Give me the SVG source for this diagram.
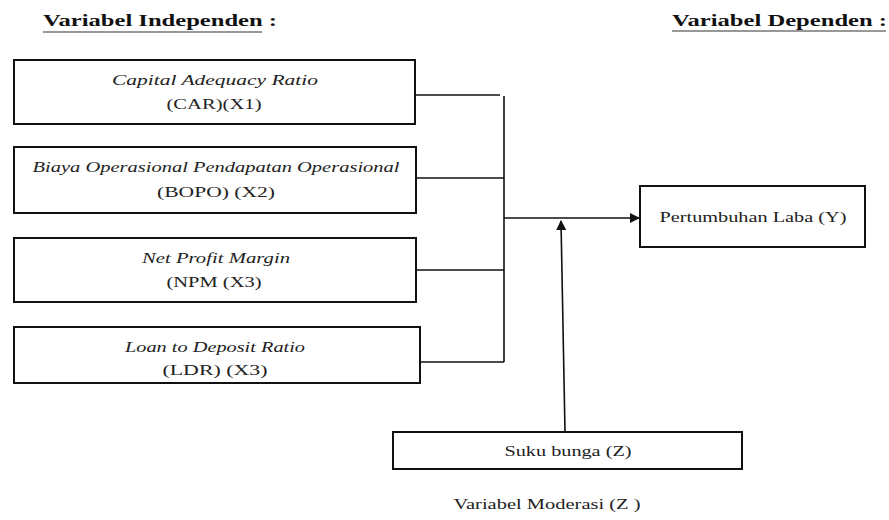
<svg xmlns="http://www.w3.org/2000/svg" width="889" height="520" viewBox="0 0 889 520">
<style>
.box{fill:#fff;stroke:#111;stroke-width:2}
.t{font-family:"Liberation Serif","Times New Roman",serif;font-size:15px;fill:#222;text-anchor:middle}
.i{font-style:italic}
.h{font-family:"Liberation Serif","Times New Roman",serif;font-size:16px;font-weight:bold;fill:#111}
.c{stroke:#111;stroke-width:1.6;fill:none}
</style>
<defs>
<marker id="ah" markerWidth="10" markerHeight="10" refX="9" refY="5" orient="auto" markerUnits="userSpaceOnUse">
<path d="M0,0 L10,5 L0,10 Z" fill="#111"/>
</marker>
</defs>
<g id="titles">
<text class="h" x="43" y="26" textLength="234" lengthAdjust="spacingAndGlyphs">Variabel Independen :</text>
<line x1="43" y1="32" x2="262" y2="32" stroke="#333" stroke-width="1.2"/>
<text class="h" x="672" y="26" textLength="215" lengthAdjust="spacingAndGlyphs">Variabel Dependen :</text>
<line x1="672" y1="31" x2="886" y2="31" stroke="#333" stroke-width="1.2"/>
</g>
<g id="connectors">
<line class="c" x1="415" y1="95" x2="500" y2="95" stroke="#444"/>
<line class="c" x1="504" y1="96" x2="504" y2="362"/>
<line class="c" x1="416" y1="178" x2="504" y2="178"/>
<line class="c" x1="416" y1="270" x2="504" y2="270"/>
<line class="c" x1="420" y1="362" x2="504" y2="362"/>
<line class="c" x1="504" y1="218" x2="639" y2="218" marker-end="url(#ah)"/>
<line class="c" x1="565" y1="432" x2="561" y2="221" marker-end="url(#ah)"/>
</g>
<g id="x1">
<rect class="box" x="14" y="60" width="401" height="64" stroke="#666"/>
<text class="t i" x="215" y="85" textLength="206" lengthAdjust="spacingAndGlyphs">Capital Adequacy Ratio</text>
<text class="t" x="214" y="109" textLength="95" lengthAdjust="spacingAndGlyphs">(CAR)(X1)</text>
</g>
<g id="x2">
<rect class="box" x="14" y="147" width="402" height="66"/>
<text class="t i" x="216" y="172" textLength="367" lengthAdjust="spacingAndGlyphs">Biaya Operasional Pendapatan Operasional</text>
<text class="t" x="216" y="197" textLength="118" lengthAdjust="spacingAndGlyphs">(BOPO)  (X2)</text>
</g>
<g id="x3">
<rect class="box" x="14" y="238" width="402" height="64"/>
<text class="t i" x="216" y="263" textLength="148" lengthAdjust="spacingAndGlyphs">Net Profit Margin</text>
<text class="t" x="214" y="287" textLength="95" lengthAdjust="spacingAndGlyphs">(NPM (X3)</text>
</g>
<g id="x4">
<rect class="box" x="14" y="327" width="406" height="56"/>
<text class="t i" x="215" y="352" textLength="180" lengthAdjust="spacingAndGlyphs">Loan to Deposit Ratio</text>
<text class="t" x="215" y="375" textLength="105" lengthAdjust="spacingAndGlyphs">(LDR)  (X3)</text>
</g>
<g id="y">
<rect class="box" x="640" y="186" width="225" height="61"/>
<text class="t" x="753" y="222" textLength="187" lengthAdjust="spacingAndGlyphs">Pertumbuhan Laba (Y)</text>
</g>
<g id="z">
<rect class="box" x="393" y="432" width="349" height="37"/>
<text class="t" x="568" y="456" textLength="127" lengthAdjust="spacingAndGlyphs">Suku bunga (Z)</text>
</g>
<g id="zlabel">
<text class="t" x="547" y="509" textLength="187" lengthAdjust="spacingAndGlyphs">Variabel Moderasi (Z )</text>
</g>
</svg>
